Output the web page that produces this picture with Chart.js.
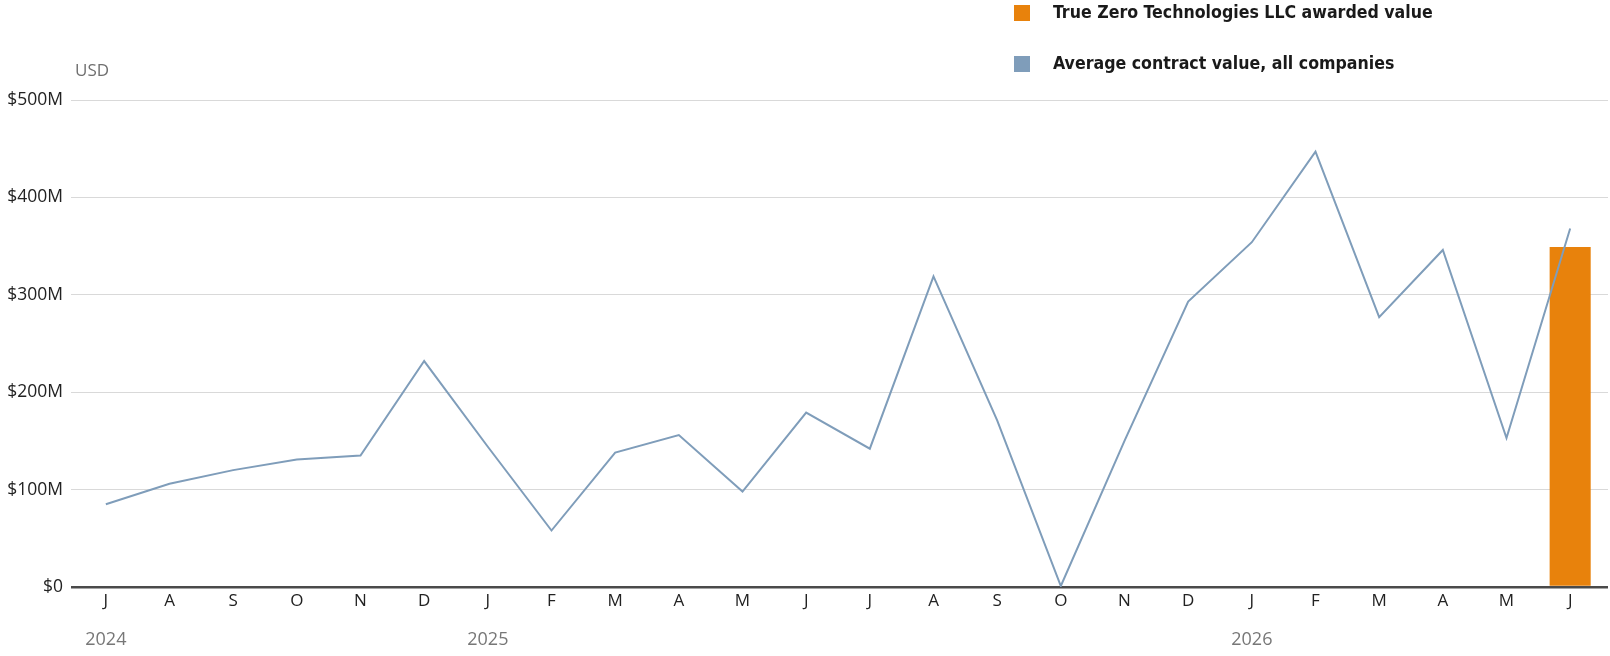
<!DOCTYPE html>
<html>
<head>
<meta charset="utf-8">
<script src="https://cdn.jsdelivr.net/npm/chart.js@4.4.1/dist/chart.umd.min.js"></script>
<style>
  body { margin: 0; background: #fff; }
  #wrap { position: relative; width: 1610px; height: 656px; }
  #chart { position: absolute; left: 0; top: 0; }
  .legend { position: absolute; left: 1014px; font-family: "DejaVu Sans Condensed", "DejaVu Sans", sans-serif; font-weight: bold; font-stretch: condensed; font-size: 17.6px; color: #1a1a1a; line-height: 16px; }
  .legend span.box { position: absolute; left: 0; top: 0; width: 16px; height: 16px; }
  .legend span.txt { position: absolute; left: 39px; top: -1px; white-space: nowrap; }
  #usd { position: absolute; left: 75px; top: 61px; font-family: "Open Sans", sans-serif; font-size: 17px; color: #707070; line-height: 17px; }
</style>
</head>
<body>
<div id="wrap">
  <canvas id="chart" width="1610" height="656"></canvas>
  <div class="legend" style="top:5px"><span class="box" style="background:#e8820c"></span><span class="txt">True Zero Technologies LLC awarded value</span></div>
  <div class="legend" style="top:56px"><span class="box" style="background:#7f9dba"></span><span class="txt">Average contract value, all companies</span></div>
  <div id="usd">USD</div>
</div>
<script>
// months Jul 2024 .. Jun 2026
const months = ['J', 'A', 'S', 'O', 'N', 'D', 'J', 'F', 'M', 'A', 'M', 'J',
                'J', 'A', 'S', 'O', 'N', 'D', 'J', 'F', 'M', 'A', 'M', 'J'];
const years = ['2024', '', '', '', '', '', '2025', '', '', '', '', '',
               '', '', '', '', '', '', '2026', '', '', '', '', ''];

// values in millions of USD
const averageValue = [85, 106, 120, 131, 135, 232, 144, 58, 138, 156, 98, 179,
                      142, 319, 171, 1, 150, 293, 354, 447, 277, 346, 153, 368];
const trueZeroValue = [null, null, null, null, null, null, null, null, null, null, null, null,
                       null, null, null, null, null, null, null, null, null, null, null, 349];

const yTicks = [0, 100, 200, 300, 400, 500];

const gridColor = ctx => ctx.tick && ctx.tick.value === 0 ? '#4a4a4a' : '#d9d9d9';
const gridWidth = ctx => ctx.tick && ctx.tick.value === 0 ? 2.5 : 1;

const ctx = document.getElementById('chart').getContext('2d');

new Chart(ctx, {
    data: {
        labels: months,
        datasets: [{
            type: 'line',
            label: 'Average contract value, all companies',
            data: averageValue,
            borderColor: '#7f9dba',
            borderWidth: 2,
            pointRadius: 0,
            tension: 0,
            order: 0
        }, {
            type: 'bar',
            label: 'True Zero Technologies LLC awarded value',
            data: trueZeroValue,
            backgroundColor: '#e8820c',
            barPercentage: 0.645,
            categoryPercentage: 1,
            order: 1
        }]
    },
    options: {
        responsive: false,
        animation: false,
        layout: { padding: { top: 100, right: 2, bottom: 1, left: 0 } },
        plugins: { legend: { display: false }, tooltip: { enabled: false } },
        scales: {
            x: {
                type: 'category',
                position: 'bottom',
                offset: true,
                grid: { display: false },
                border: { display: false },
                ticks: {
                    autoSkip: false, maxRotation: 0, padding: -4,
                    color: '#222', font: { family: 'Open Sans', size: 17 }
                },
                afterFit: s => { s.height = 30; }
            },
            x2: {
                type: 'category',
                position: 'bottom',
                labels: years,
                offset: true,
                grid: { display: false },
                border: { display: false },
                ticks: {
                    autoSkip: false, maxRotation: 0, padding: 4,
                    color: '#777', font: { family: 'Open Sans', size: 18 }
                },
                afterFit: s => { s.height = 38; }
            },
            y: {
                min: 0, max: 500,
                afterBuildTicks: s => { s.ticks = yTicks.map(v => ({ value: v })); },
                grid: { color: gridColor, lineWidth: gridWidth, tickLength: 3, drawTicks: true },
                border: { display: false },
                ticks: {
                    padding: 8, color: '#222', font: { family: 'Open Sans', size: 17.5 },
                    callback: v => v === 0 ? '$0' : '$' + v + 'M'
                },
                afterFit: s => { s.width = 74; }
            },
            y2: {
                position: 'right',
                min: 0, max: 500,
                afterBuildTicks: s => { s.ticks = yTicks.map(v => ({ value: v })); },
                grid: { color: gridColor, lineWidth: gridWidth, tickLength: 6, drawOnChartArea: false },
                border: { display: false },
                ticks: { display: false }
            }
        }
    }
});
</script>
</body>
</html>
